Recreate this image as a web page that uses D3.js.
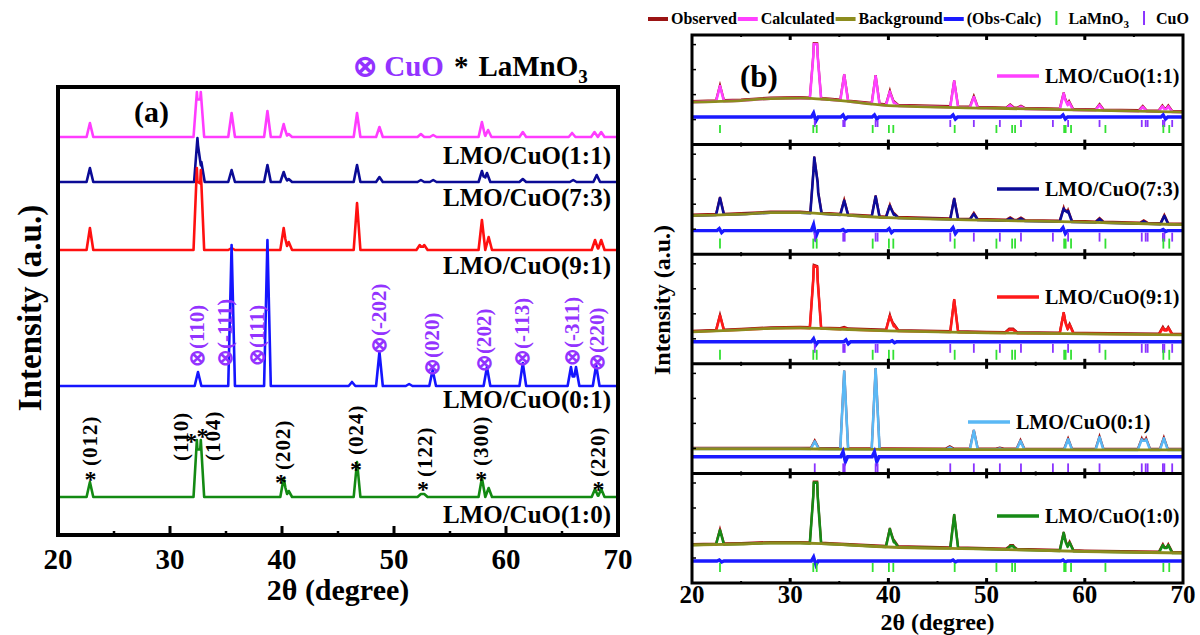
<!DOCTYPE html>
<html>
<head>
<meta charset="utf-8">
<script src="https://cdn.jsdelivr.net/npm/d3@7"></script>
<style>
  body { margin: 0; background: #fff; }
  svg { display: block; font-family: "Liberation Serif", "Times New Roman", serif; font-weight: bold; }
</style>
</head>
<body>
<svg id="chart" width="1200" height="635"></svg>
<script>
// ---- data (2theta in degree, intensity in a.u.) ----
var samples = ['LMO/CuO(1:1)', 'LMO/CuO(7:3)', 'LMO/CuO(9:1)', 'LMO/CuO(0:1)', 'LMO/CuO(1:0)']

// [2theta, peak height]
var peaks_11 = [[22.85,14],[32.4,45],[32.75,45],[35.5,24],[38.7,26],[40.15,13],[40.6,3],[46.7,24],[48.7,10],[52.4,3],[53.5,2],[57.85,15],[58.4,7],[61.5,5],[65.9,4],[67.9,5],[68.5,5]]
var peaks_73 = [[22.85,14],[32.45,44],[32.8,20],[35.5,12],[38.7,17],[40.15,10],[40.6,3],[46.7,17],[48.7,5],[52.4,2],[53.5,2],[57.85,11],[58.3,9],[61.5,3],[66,2],[68.1,7]]
var peaks_91 = [[22.85,22],[32.4,82],[32.75,80],[35.5,2],[40.15,22],[40.6,8],[46.7,47],[52.3,5],[52.7,5],[57.85,30],[58.45,13],[67.95,10],[68.5,10]]
var peaks_01 = [[32.5,14],[35.5,141],[38.7,146],[46.25,4],[48.7,34],[51.35,2],[53.45,16],[58.3,19],[61.5,23],[65.8,19],[66.25,19],[68.05,21]]
var peaks_10 = [[22.85,15],[32.4,57],[32.75,57],[40.15,19],[40.6,6],[46.7,35],[52.4,3],[52.7,3],[57.85,19],[58.45,9],[67.95,8],[68.5,8]]
var peakSets = [peaks_11, peaks_73, peaks_91, peaks_01, peaks_10]

// vertical offsets of the stacked patterns in panel (a)
var offsetsA = [398, 353, 285, 149, 38]

// panel (b): Rietveld fits
var scaleB = [1.08, 1.2, 0.68, 0.55, 0.95]
var bgX = [20, 25, 28, 31, 34, 40, 50, 60, 70]
var bg_11 = [42.5, 44, 46, 46.5, 45, 39, 36.5, 34.5, 32.5]
var bg_73 = [38.5, 40, 41.5, 41.5, 40, 36.5, 34, 32, 29.5]
var bg_91 = [32, 34, 35.5, 36, 35, 33, 31, 30, 29]
var bg_01 = [24.5, 24.5, 24.5, 24.5, 24.3, 24, 23.8, 23.6, 23.5]
var bg_10 = [38, 39, 40, 40, 39, 36, 34, 31.5, 30]
var bgSets = [bg_11, bg_73, bg_91, bg_01, bg_10]
var diffLevel = [27.6, 23.6, 22, 16.6, 22]
var diff_11 = [[32.5,4],[35.5,2],[38.7,2],[46.7,2],[57.9,2],[68.1,2]]
var diff_73 = [[22.9,2],[32.5,6],[35.5,1],[40.2,2],[46.7,3],[57.9,3],[68.1,1]]
var diff_91 = [[32.5,3],[35.8,2],[40.5,1]]
var diff_01 = [[35.5,5],[38.7,5]]
var diff_10 = [[22.9,1],[32.5,4],[46.7,1],[57.9,1]]
var diffSets = [diff_11, diff_73, diff_91, diff_01, diff_10]

// Bragg positions
var lmoTicks = [22.85, 32.35, 32.7, 38.4, 40.05, 40.5, 46.75, 51.0, 52.6, 52.9, 57.9, 58.05, 58.6, 62.1, 68.0, 68.6]
var cuoTicks = [32.5, 35.4, 35.55, 38.7, 38.9, 46.3, 48.7, 51.35, 53.5, 56.75, 58.3, 61.5, 65.8, 66.2, 66.4, 67.95, 68.1, 68.9]
var lmoRows = [[11.6,19.6],[5.6,15.6],[4,14],null,[11,20]]
var cuoRows = [[17.6,24.6],[12.6,21.6],[11,20],[1,10],null]

// hkl labels of panel (a): [text, 2theta, level]
var cuoLabels = [['(110)',32.45,168],['(-111)',34.9,168],['(111)',37.8,169],['(-202)',48.65,181],['(020)',53.4,159],['(202)',58.05,163],['(-113)',61.45,168],['(-311)',65.85,169],['(220)',68.1,164]]
var lmoLabels = [['(012)',22.9,69],['(110)',31.0,74],['(104)',33.8,74],['(202)',40.05,65],['(024)',46.6,80],['(122)',52.8,58],['(300)',57.8,69],['(220)',68.25,58]]
var lmoStars = [[22.9,60],[31.9,98],[32.9,103],[39.9,57],[46.6,70],[52.6,50],[57.8,60],[68.25,50]]

var xTicks = [20, 30, 40, 50, 60, 70]
var xMinor = [25, 35, 45, 55, 65]

var colorsA = ['#ff3cff', '#0b0b96', '#ff1010', '#1515ff', '#138a13']
var colorsB = ['#ff40ff', '#0c0c99', '#ff1a1a', '#5ab8f5', '#168a16']

// ---- helpers ----
function profile(peaks, hw) {
  var xs = new Set([20, 70])
  peaks.forEach(function(p) { xs.add(p[0] - hw); xs.add(p[0]); xs.add(p[0] + hw) })
  return Array.from(xs).filter(function(x) { return x >= 20 && x <= 70 })
    .sort(function(a, b) { return a - b })
    .map(function(x) {
      return [x, d3.sum(peaks, function(p) { return Math.max(0, p[1] * (1 - Math.abs(x - p[0]) / hw)) })]
    })
}

var svg = d3.select('#chart')

// ================= panel (a) =================
var A = {left: 58, right: 618, top: 87, bottom: 535}
var xA = d3.scaleLinear().domain([20, 70]).range([A.left, A.right])
var yA = d3.scaleLinear().domain([0, A.bottom - A.top]).range([A.bottom, A.top])

var gA = svg.append('g')
var lineA = d3.line().x(function(d) { return xA(d[0]) }).y(function(d) { return yA(d[1]) })

peakSets.forEach(function(pk, i) {
  var off = offsetsA[i]
  var pts = profile(pk, 0.3).map(function(d) { return [d[0], d[1] + off] })
  gA.append('path')
    .attr('d', lineA(pts))
    .attr('fill', 'none')
    .attr('stroke', colorsA[i])
    .attr('stroke-width', 2.6)
    .attr('stroke-linejoin', 'round')
})

// sample labels
var labelYA = [164, 206, 274, 408, 523]
samples.forEach(function(s, i) {
  gA.append('text').attr('x', 611).attr('y', labelYA[i])
    .attr('text-anchor', 'end').attr('font-size', 25).attr('fill', '#000').text(s)
})

// CuO hkl labels
cuoLabels.forEach(function(l) {
  var x = xA(l[1]), y = yA(l[2])
  gA.append('text')
    .attr('transform', 'translate(' + x + ',' + y + ') rotate(-90)')
    .attr('dominant-baseline', 'central')
    .attr('font-size', 21).attr('fill', '#9333ff')
    .text('\u2297' + l[0])
})
// LaMnO3 hkl labels
lmoLabels.forEach(function(l) {
  var x = xA(l[1]), y = yA(l[2])
  gA.append('text')
    .attr('transform', 'translate(' + x + ',' + y + ') rotate(-90)')
    .attr('dominant-baseline', 'central')
    .attr('font-size', 21).attr('fill', '#000').attr('letter-spacing', 1)
    .text(l[0])
})
lmoStars.forEach(function(s) {
  gA.append('text').attr('x', xA(s[0])).attr('y', yA(s[1]) + 12)
    .attr('text-anchor', 'middle').attr('font-size', 24).attr('fill', '#000').text('*')
})

// frame + ticks
gA.append('rect').attr('x', A.left).attr('y', A.top)
  .attr('width', A.right - A.left).attr('height', A.bottom - A.top)
  .attr('fill', 'none').attr('stroke', '#000').attr('stroke-width', 4)
xTicks.slice(1, -1).forEach(function(t) {
  gA.append('line').attr('x1', xA(t)).attr('x2', xA(t)).attr('y1', A.bottom).attr('y2', A.bottom - 9)
    .attr('stroke', '#000').attr('stroke-width', 3)
})
xMinor.forEach(function(t) {
  gA.append('line').attr('x1', xA(t)).attr('x2', xA(t)).attr('y1', A.bottom).attr('y2', A.bottom - 4)
    .attr('stroke', '#000').attr('stroke-width', 2.5)
})
xTicks.forEach(function(t) {
  gA.append('text').attr('x', xA(t)).attr('y', 569).attr('text-anchor', 'middle')
    .attr('font-size', 29).text(t)
})
gA.append('text').attr('x', (A.left + A.right) / 2).attr('y', 600).attr('text-anchor', 'middle')
  .attr('font-size', 30).text('2\u03b8 (degree)')
gA.append('text').attr('transform', 'translate(41,' + 308 + ') rotate(-90)')
  .attr('text-anchor', 'middle').attr('font-size', 33).text('Intensity (a.u.)')
gA.append('text').attr('x', 134).attr('y', 122).attr('font-size', 30).text('(a)')

// header legend
var hdr = gA.append('text').attr('x', 353).attr('y', 76).attr('font-size', 29)
hdr.append('tspan').attr('fill', '#9333ff').text('\u2297 CuO')
hdr.append('tspan').attr('fill', '#000').attr('dx', 10).text('*')
hdr.append('tspan').attr('fill', '#000').attr('dx', 10).text('LaMnO')
hdr.append('tspan').attr('fill', '#000').attr('font-size', 19).attr('dy', 7).text('3')

// ================= panel (b) =================
var B = {left: 692, right: 1183, top: 35, bottom: 583}
var xB = d3.scaleLinear().domain([20, 70]).range([B.left, B.right])
var bandH = (B.bottom - B.top) / 5
var gB = svg.append('g')

samples.forEach(function(s, i) {
  var top = B.top + i * bandH, bot = top + bandH
  var yB = d3.scaleLinear().domain([0, bandH]).range([bot, top])
  var bgScale = d3.scaleLinear().domain(bgX).range(bgSets[i])
  var line = d3.line().x(function(d) { return xB(d[0]) }).y(function(d) { return yB(d[1]) })

  // calculated = background + peaks
  var prof = profile(peakSets[i].map(function(p) { return [p[0], p[1] * scaleB[i]] }), 0.4)
  var xs = new Set(prof.map(function(d) { return d[0] }).concat(bgX))
  var profScale = d3.scaleLinear().domain(prof.map(function(d) { return d[0] })).range(prof.map(function(d) { return d[1] }))
  var calc = Array.from(xs).sort(function(a, b) { return a - b }).map(function(x) {
    return [x, bgScale(x) + profScale(x)]
  })

  var g = gB.append('g')
  // observed (mostly hidden under calc)
  g.append('path').attr('d', line(calc.map(function(d) { return [d[0], d[1] + 1] })))
    .attr('fill', 'none').attr('stroke', '#a01010').attr('stroke-width', 2.2)
  g.append('path').attr('d', line(calc))
    .attr('fill', 'none').attr('stroke', colorsB[i]).attr('stroke-width', 2.6).attr('stroke-linejoin', 'round')
  // background
  g.append('path').attr('d', d3.line().curve(d3.curveMonotoneX)
      .x(function(d) { return xB(d[0]) }).y(function(d) { return yB(d[1]) })(bgX.map(function(x, j) { return [x, bgSets[i][j]] })))
    .attr('fill', 'none').attr('stroke', '#8c8c1e').attr('stroke-width', 2.8)

  // difference
  var dpts = [[20, 0], [70, 0]]
  diffSets[i].forEach(function(d) {
    dpts.push([d[0] - 0.35, 0], [d[0] - 0.12, d[1]], [d[0] + 0.12, -d[1]], [d[0] + 0.35, 0])
  })
  dpts.sort(function(a, b) { return a[0] - b[0] })
  g.append('path').attr('d', line(dpts.map(function(d) { return [d[0], d[1] + diffLevel[i]] })))
    .attr('fill', 'none').attr('stroke', '#1a1aff').attr('stroke-width', 3.4)

  // Bragg ticks
  if (cuoRows[i]) {
    cuoTicks.forEach(function(t) {
      g.append('line').attr('x1', xB(t)).attr('x2', xB(t)).attr('y1', yB(cuoRows[i][0])).attr('y2', yB(cuoRows[i][1]))
        .attr('stroke', '#8a33ff').attr('stroke-width', 1.8)
    })
  }
  if (lmoRows[i]) {
    lmoTicks.forEach(function(t) {
      g.append('line').attr('x1', xB(t)).attr('x2', xB(t)).attr('y1', yB(lmoRows[i][0])).attr('y2', yB(lmoRows[i][1]))
        .attr('stroke', '#33e033').attr('stroke-width', 1.8)
    })
  }

  // sample legend
  var ly = [82, 195, 303, 428, 522][i] - 6
  var lx = i === 3 ? 968 : 997
  g.append('line').attr('x1', lx).attr('x2', lx + 42).attr('y1', ly).attr('y2', ly)
    .attr('stroke', colorsB[i]).attr('stroke-width', 3.5)
  g.append('text').attr('x', lx + 48).attr('y', ly + 7).attr('font-size', 20).text(s)

  // divider ticks / left ticks
  xTicks.slice(1, -1).forEach(function(t) {
    g.append('line').attr('x1', xB(t)).attr('x2', xB(t)).attr('y1', top).attr('y2', top + 5)
      .attr('stroke', '#000').attr('stroke-width', 3)
    g.append('line').attr('x1', xB(t)).attr('x2', xB(t)).attr('y1', bot).attr('y2', bot - 5)
      .attr('stroke', '#000').attr('stroke-width', 3)
  })
  xMinor.forEach(function(t) {
    g.append('line').attr('x1', xB(t)).attr('x2', xB(t)).attr('y1', top).attr('y2', top + 2)
      .attr('stroke', '#000').attr('stroke-width', 2)
    g.append('line').attr('x1', xB(t)).attr('x2', xB(t)).attr('y1', bot).attr('y2', bot - 2)
      .attr('stroke', '#000').attr('stroke-width', 2)
  })
  ;[25, 50, 75, 100].forEach(function(v) {
    g.append('line').attr('x1', B.left).attr('x2', B.left + 4).attr('y1', yB(v)).attr('y2', yB(v))
      .attr('stroke', '#000').attr('stroke-width', 1.5)
  })
  if (i > 0) {
    g.append('line').attr('x1', B.left).attr('x2', B.right).attr('y1', top).attr('y2', top)
      .attr('stroke', '#000').attr('stroke-width', 3)
  }
})

gB.append('rect').attr('x', B.left).attr('y', B.top)
  .attr('width', B.right - B.left).attr('height', B.bottom - B.top)
  .attr('fill', 'none').attr('stroke', '#000').attr('stroke-width', 3)

xTicks.forEach(function(t) {
  gB.append('text').attr('x', xB(t)).attr('y', 603).attr('text-anchor', 'middle')
    .attr('font-size', 25).text(t)
})
gB.append('text').attr('x', (B.left + B.right) / 2).attr('y', 630).attr('text-anchor', 'middle')
  .attr('font-size', 24).text('2\u03b8 (degree)')
gB.append('text').attr('transform', 'translate(670,300) rotate(-90)')
  .attr('text-anchor', 'middle').attr('font-size', 24).text('Intensity (a.u.)')
gB.append('text').attr('x', 740).attr('y', 87).attr('font-size', 31).text('(b)')

// top legend
var legItems = [
  {type: 'line', color: '#9b1414', label: 'Observed'},
  {type: 'line', color: '#ff40ff', label: 'Calculated'},
  {type: 'line', color: '#8c8c1e', label: 'Background'},
  {type: 'line', color: '#1a1aff', label: '(Obs-Calc)'},
  {type: 'tick', color: '#33e033', label: 'LaMnO', sub: '3'},
  {type: 'tick', color: '#8a33ff', label: 'CuO'}
]
var lx = 648, legY = 24
legItems.forEach(function(it) {
  if (it.type === 'line') {
    gB.append('line').attr('x1', lx).attr('x2', lx + 20).attr('y1', legY - 5).attr('y2', legY - 5)
      .attr('stroke', it.color).attr('stroke-width', 4)
    lx += 23
  } else {
    lx += 14
    gB.append('line').attr('x1', lx).attr('x2', lx).attr('y1', legY - 13).attr('y2', legY + 1)
      .attr('stroke', it.color).attr('stroke-width', 2)
    lx += 12
  }
  var t = gB.append('text').attr('x', lx).attr('y', legY).attr('font-size', 16)
  t.append('tspan').text(it.label)
  if (it.sub) t.append('tspan').attr('font-size', 11).attr('dy', 4).text(it.sub)
  lx += t.node().getComputedTextLength() + 1
})
</script>
</body>
</html>
